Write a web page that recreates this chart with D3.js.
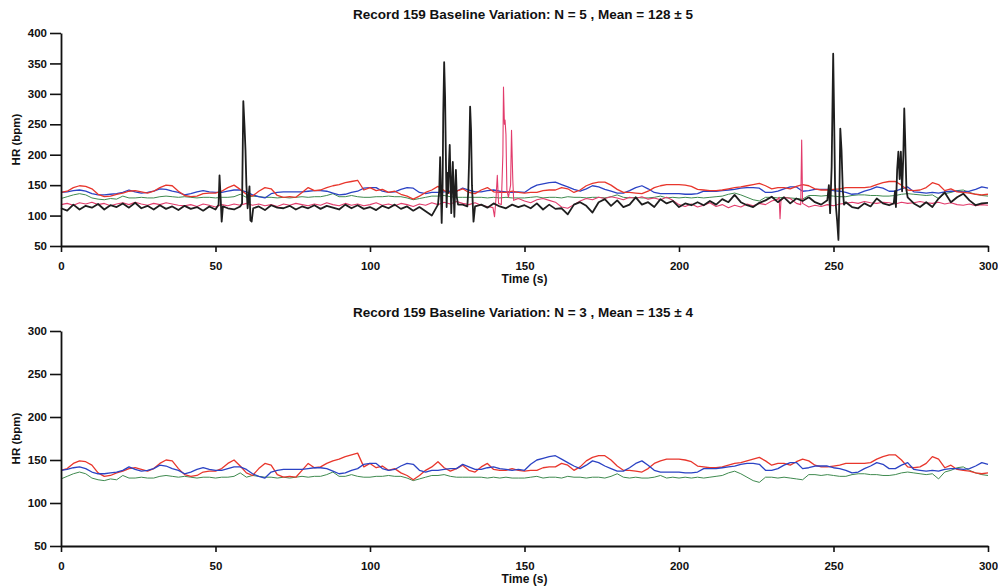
<!DOCTYPE html>
<html>
<head>
<meta charset="utf-8">
<script src="https://cdn.jsdelivr.net/npm/d3@7"></script>
<style>
body { margin: 0; background: #fff; }
text { font-family: "Liberation Sans", Arial, sans-serif; font-weight: bold; fill: #111; }
</style>
</head>
<body>
<div id="chart"></div>
<script>
// samples every 2 s, 0..300
var times = d3.range(0, 301, 2);

var red = [
  138, 140, 146, 149, 148, 144, 135, 131, 132, 135,
  137, 140, 141, 139, 137, 140, 146, 150, 149, 140,
  133, 131, 132, 136, 137, 137, 140, 146, 150, 143,
  135, 132, 140, 146, 144, 133, 130, 131, 130, 138,
  146, 141, 142, 146, 149, 151, 154, 156, 158, 142,
  146, 141, 143, 138, 140, 135, 132, 127, 132, 138,
  142, 148, 141, 137, 140, 144, 138, 136, 142, 146,
  139, 138, 138, 140, 138, 137, 138, 138, 141, 142,
  142, 146, 144, 138, 142, 149, 153, 155, 155, 150,
  143, 138, 138, 137, 136, 140, 146, 149, 151, 151,
  151, 150, 148, 143, 142, 141, 141, 142, 144, 146,
  147, 149, 151, 153, 149, 144, 146, 146, 144, 148,
  151, 149, 144, 142, 142, 143, 144, 146, 146, 146,
  146, 147, 151, 154, 156, 156, 150, 142, 141, 142,
  146, 154, 151, 141, 144, 139, 138, 137, 135, 134,
  135
];

var blue = [
  138, 139, 141, 142, 140, 136, 134, 134, 135, 136,
  138, 142, 139, 137, 138, 140, 144, 143, 140, 138,
  134, 136, 139, 141, 139, 138, 138, 140, 142, 142,
  139, 134, 131, 129, 136, 138, 139, 139, 139, 139,
  140, 141, 141, 140, 137, 134, 135, 138, 140, 145,
  146, 146, 140, 138, 139, 143, 146, 145, 138, 136,
  138, 138, 139, 140, 140, 145, 142, 139, 139, 141,
  142, 140, 139, 138, 139, 138, 145, 150, 152, 154,
  155, 151, 147, 143, 140, 144, 149, 147, 143, 140,
  137, 137, 141, 146, 149, 144, 138, 136, 136, 136,
  136, 135, 135, 136, 140, 140, 140, 141, 142, 143,
  145, 146, 146, 145, 138, 138, 140, 144, 147, 147,
  140, 141, 143, 143, 143, 141, 140, 138, 135, 136,
  140, 143, 147, 145, 140, 140, 144, 147, 139, 138,
  137, 138, 137, 139, 140, 140, 139, 140, 143, 147,
  145
];

var green = [
  128, 131, 134, 136, 134, 129, 127, 126, 128, 127,
  132, 129, 129, 130, 129, 129, 131, 132, 131, 130,
  131, 130, 129, 130, 130, 129, 130, 130, 131, 135,
  130, 132, 131, 130, 130, 129, 130, 129, 130, 131,
  130, 131, 131, 133, 136, 131, 131, 133, 131, 130,
  130, 131, 131, 132, 131, 131, 129, 126, 128, 130,
  132, 132, 133, 131, 130, 130, 130, 130, 130, 129,
  130, 129, 130, 129, 129, 129, 130, 131, 129, 130,
  130, 129, 131, 130, 130, 129, 130, 130, 129, 131,
  134, 130, 129, 130, 129, 129, 130, 132, 129, 130,
  129, 130, 129, 130, 129, 130, 131, 132, 135, 137,
  134, 130, 126, 124, 130, 130, 129, 130, 129, 128,
  127, 133, 133, 132, 133, 132, 131, 131, 133, 134,
  134, 133, 133, 132, 132, 133, 135, 136, 135, 134,
  133, 134, 128, 136, 138, 141, 142, 138, 135, 133,
  132
];

var black = [
  112, 108, 118, 110, 116, 113, 119, 110, 117, 114,
  120, 113, 121, 112, 116, 110, 117, 111, 115, 109,
  116, 111, 114, 108, 115, 110, 117, 112, 110, 115,
  112, 108, 115, 109, 117, 113, 112, 116, 110, 115,
  112, 117, 111, 116, 113, 110, 118, 112, 117, 111,
  114, 109, 116, 112, 118, 111, 115, 108, 114, 107,
  100, 115, 118, 112, 115, 118, 116, 112, 118, 113,
  120, 115, 112, 118, 114, 117, 112, 120, 110, 118,
  111, 112, 102, 118, 122, 116, 105, 122, 127, 116,
  125, 114, 118, 130, 118, 122, 114, 127, 120, 124,
  114, 120, 117, 122, 117, 124, 118, 127, 122, 134,
  122, 117, 114, 121, 125, 131, 122, 130, 120, 128,
  124, 130, 122, 118, 123, 120, 118, 122, 114, 112,
  120, 115, 128, 120, 117, 118, 125, 130, 120, 114,
  122, 114, 128, 138, 122, 130, 136, 125, 117, 120,
  121
];

var pink = [
  118, 120, 117, 121, 119, 122, 118, 120, 116, 119,
  121, 118, 122, 119, 117, 120, 118, 121, 119, 117,
  116, 118, 115, 119, 117, 114, 118, 116, 119, 117,
  120, 117, 119, 116, 118, 115, 119, 117, 120, 118,
  116, 119, 117, 121, 118, 116, 120, 117, 119, 116,
  118, 121, 117, 119, 116, 120, 118, 115, 119, 117,
  121, 118, 122, 119, 123, 120, 118, 121, 117, 115,
  112, 118, 120, 122, 128, 124, 121, 126, 128, 125,
  122, 114, 112, 118, 124, 128, 126, 130, 128, 131,
  129, 126, 130, 128, 131, 127, 129, 126, 130, 125,
  118, 115, 119, 114, 117, 121, 115, 118, 113, 117,
  114, 119, 116, 120, 118, 124, 127, 130, 128, 120,
  116, 114, 117, 115, 118, 116, 119, 120, 122, 120,
  123, 121, 120, 122, 121, 119, 122, 120, 121, 123,
  121, 120, 122, 119, 121, 118, 117, 119, 116, 118,
  117
];

// artefact bursts as [time, bpm]
var blackSpikes = [
  [[51.0, 118], [51.3, 166], [51.7, 125], [52.0, 90], [52.4, 115]],
  [[58.6, 120], [59.0, 288], [59.4, 246], [59.7, 208], [60.0, 150], [60.4, 112],
   [61.0, 148], [61.3, 92], [61.7, 90], [62.2, 112]],
  [[122.0, 118], [122.4, 140], [122.7, 196], [123.0, 130], [123.2, 88], [123.5, 150],
   [123.7, 265], [124.0, 352], [124.3, 295], [124.6, 180], [124.8, 114], [125.1, 170],
   [125.3, 137], [125.6, 190], [125.8, 216], [126.1, 150], [126.3, 104], [126.6, 160],
   [126.8, 188], [127.1, 130], [127.3, 98], [127.6, 150], [127.8, 175], [128.1, 130],
   [128.5, 118]],
  [[131.5, 115], [131.8, 140], [132.1, 196], [132.4, 279], [132.7, 241], [133.0, 150],
   [133.5, 90], [134.0, 115]],
  [[248.0, 125], [248.5, 150], [248.9, 104], [249.4, 180], [249.9, 366], [250.2, 262],
   [250.5, 150], [250.8, 114], [251.2, 90], [251.6, 60], [251.9, 130], [252.2, 243],
   [252.6, 207], [253.0, 142], [253.4, 118]],
  [[269.5, 120], [269.9, 140], [270.2, 114], [270.6, 175], [271.0, 205], [271.4, 160],
   [271.8, 205], [272.2, 140], [272.6, 200], [272.9, 276], [273.2, 224], [273.6, 142],
   [274.0, 130]]
];

var pinkSpikes = [
  [[139.8, 113], [140.3, 98], [140.8, 130], [141.2, 166], [141.6, 120], [142.5, 118],
   [143.0, 200], [143.2, 311], [143.5, 250], [143.7, 257], [144.0, 233], [144.3, 142],
   [144.8, 130], [145.5, 150], [145.8, 240], [146.2, 160], [146.5, 125]],
  [[232.4, 130], [232.7, 95], [233.0, 125]],
  [[239.4, 118], [239.7, 224], [240.0, 120]]
];

var xTicks = [0, 50, 100, 150, 200, 250, 300];
var yTicksTop = [50, 100, 150, 200, 250, 300, 350, 400];
var yTicksBottom = [50, 100, 150, 200, 250, 300];
var titleTop = "Record 159 Baseline Variation: N = 5 , Mean = 128  \u00b1  5";
var titleBottom = "Record 159 Baseline Variation: N = 3 , Mean = 135  \u00b1  4";

var width = 998, height = 586;
var left = 61, right = 988;

function points(base, groups) {
  groups = groups || [];
  var pts = base.map(function(v, i) { return [times[i], v]; })
    .filter(function(p) {
      return !groups.some(function(g) {
        return p[0] >= g[0][0] && p[0] <= g[g.length - 1][0];
      });
    });
  groups.forEach(function(g) { pts = pts.concat(g); });
  return pts.sort(function(a, b) { return a[0] - b[0]; });
}

var svg = d3.select("#chart")
  .append("svg")
  .attr("width", width)
  .attr("height", height);

var x = d3.scaleLinear().domain([0, 300]).range([left, right]);

function panel(top, bottom, yMax, yTicks, title, series) {
  var y = d3.scaleLinear().domain([50, yMax]).range([bottom, top]);
  var g = svg.append("g");

  var line = d3.line()
    .x(function(d) { return x(d[0]); })
    .y(function(d) { return y(d[1]); });

  series.forEach(function(s) {
    g.append("path")
      .datum(s.data)
      .attr("fill", "none")
      .attr("stroke", s.color)
      .attr("stroke-width", s.width)
      .attr("stroke-linejoin", "round")
      .attr("d", line);
  });

  var yAxis = g.append("g")
    .attr("transform", "translate(" + left + ",0)")
    .call(d3.axisLeft(y).tickValues(yTicks).tickSize(11).tickSizeOuter(0).tickPadding(3));
  var xAxis = g.append("g")
    .attr("transform", "translate(0," + bottom + ")")
    .call(d3.axisBottom(x).tickValues(xTicks).tickSize(6).tickSizeOuter(0).tickPadding(10));

  [yAxis, xAxis].forEach(function(a) {
    a.select(".domain").attr("stroke", "#111").attr("stroke-width", 1.8);
    a.selectAll(".tick line").attr("stroke", "#111").attr("stroke-width", 1.6);
    a.selectAll("text")
      .attr("font-family", "Liberation Sans, Arial, sans-serif")
      .attr("font-weight", "bold")
      .attr("font-size", "11.5px")
      .attr("fill", "#111");
  });

  g.append("text")
    .attr("x", 523)
    .attr("y", top - 14)
    .attr("text-anchor", "middle")
    .attr("font-size", "13.5px")
    .text(title);

  g.append("text")
    .attr("x", x(150))
    .attr("y", bottom + 37)
    .attr("text-anchor", "middle")
    .attr("font-size", "12px")
    .text("Time (s)");

  g.append("text")
    .attr("transform", "translate(20," + ((top + bottom) / 2) + ") rotate(-90)")
    .attr("text-anchor", "middle")
    .attr("font-size", "11.5px")
    .text("HR (bpm)");
}

panel(33, 246, 400, yTicksTop, titleTop, [
  { data: points(green), color: "#3f8a4f", width: 1 },
  { data: points(blue), color: "#2b43c4", width: 1.3 },
  { data: points(red), color: "#e8362c", width: 1.3 },
  { data: points(pink, pinkSpikes), color: "#e23c6c", width: 1.1 },
  { data: points(black, blackSpikes), color: "#1e1e1e", width: 1.8 }
]);

panel(331, 546, 300, yTicksBottom, titleBottom, [
  { data: points(green), color: "#3f8a4f", width: 1 },
  { data: points(red), color: "#e8362c", width: 1.3 },
  { data: points(blue), color: "#2b43c4", width: 1.3 }
]);
</script>
</body>
</html>
